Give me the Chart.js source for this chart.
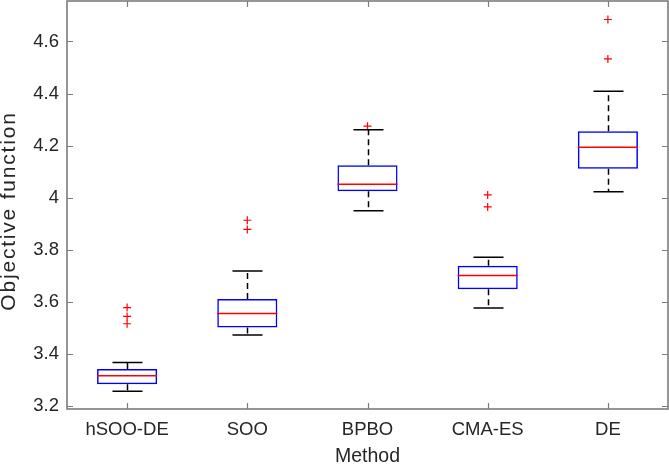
<!DOCTYPE html>
<html>
<head>
<meta charset="utf-8">
<script src="https://cdn.jsdelivr.net/npm/chart.js@4/dist/chart.umd.min.js"></script>
<style>
  html, body { margin: 0; padding: 0; background: #fff; }
  #wrap { width: 669px; height: 465px; }
</style>
</head>
<body>
<div id="wrap"><canvas id="c" width="669" height="465"></canvas></div>
<script>
const categories = ['hSOO-DE', 'SOO', 'BPBO', 'CMA-ES', 'DE'];
const q1 = [3.285, 3.503, 4.025, 3.649, 4.112];
const medians = [3.318, 3.556, 4.052, 3.702, 4.194];
const q3 = [3.343, 3.612, 4.125, 3.739, 4.255];
const whiskerLow = [3.258, 3.474, 3.950, 3.577, 4.023];
const whiskerHigh = [3.368, 3.719, 4.261, 3.772, 4.409];
const outliers = [
  [3.579, 3.545, 3.517],
  [3.914, 3.879],
  [4.275],
  [4.011, 3.965],
  [4.684, 4.533]
];
const yTicks = [3.2, 3.4, 3.6, 3.8, 4.0, 4.2, 4.4, 4.6];
const yMin = 3.19, yMax = 4.755;

const boxData = categories.map((c, i) => [q1[i], q3[i]]);
const outlierData = [];
categories.forEach((c, i) => outliers[i].forEach(v => outlierData.push({ x: c, y: v })));

const FRAME = '#7c7c7c';
const FONT = 'Liberation Sans, Arial, sans-serif';

const boxPlugin = {
  id: 'boxparts',
  beforeDraw(chart) {
    const ctx = chart.ctx;
    ctx.save();
    ctx.fillStyle = '#ffffff';
    ctx.fillRect(0, 0, chart.width, chart.height);
    ctx.restore();
  },
  afterDatasetsDraw(chart) {
    const ctx = chart.ctx;
    const y = chart.scales.y;
    const meta = chart.getDatasetMeta(0);
    ctx.save();
    meta.data.forEach((bar, i) => {
      const cx = Math.round(bar.x) + 0.5;
      const half = bar.width / 2;
      const capHalf = half / 2;
      const yLo = y.getPixelForValue(whiskerLow[i]);
      const yHi = y.getPixelForValue(whiskerHigh[i]);
      const yQ1 = y.getPixelForValue(q1[i]);
      const yQ3 = y.getPixelForValue(q3[i]);
      const yMed = y.getPixelForValue(medians[i]);
      ctx.strokeStyle = '#000000';
      ctx.lineWidth = 1.5;
      ctx.setLineDash([6, 4]);
      ctx.beginPath();
      ctx.moveTo(cx, yQ3); ctx.lineTo(cx, yHi);
      ctx.moveTo(cx, yQ1); ctx.lineTo(cx, yLo);
      ctx.stroke();
      ctx.setLineDash([]);
      ctx.beginPath();
      ctx.moveTo(cx - capHalf, yHi); ctx.lineTo(cx + capHalf, yHi);
      ctx.moveTo(cx - capHalf, yLo); ctx.lineTo(cx + capHalf, yLo);
      ctx.stroke();
      ctx.strokeStyle = '#ff0000';
      ctx.lineWidth = 1.5;
      ctx.beginPath();
      ctx.moveTo(bar.x - half, yMed); ctx.lineTo(bar.x + half, yMed);
      ctx.stroke();
    });
    ctx.restore();
  },
  afterDraw(chart) {
    const ctx = chart.ctx;
    const a = chart.chartArea;
    const x = chart.scales.x;
    const y = chart.scales.y;
    ctx.save();
    ctx.strokeStyle = FRAME;
    ctx.lineWidth = 1.2;
    ctx.beginPath();
    yTicks.forEach(v => {
      const py = Math.round(y.getPixelForValue(v)) + 0.5;
      ctx.moveTo(a.left, py); ctx.lineTo(a.left + 6, py);
      ctx.moveTo(a.right, py); ctx.lineTo(a.right - 6, py);
    });
    categories.forEach((c, i) => {
      const px = Math.round(x.getPixelForValue(i)) + 0.5;
      ctx.moveTo(px, a.top); ctx.lineTo(px, a.top + 6);
      ctx.moveTo(px, a.bottom); ctx.lineTo(px, a.bottom - 6);
    });
    ctx.stroke();
    ctx.lineWidth = 1.6;
    ctx.strokeRect(a.left, a.top, a.right - a.left, a.bottom - a.top);
    ctx.restore();
  }
};

function patchTitle(s) {
  if (s._titlePatched) return;
  const orig = s.drawTitle.bind(s);
  s.drawTitle = function () {
    const ctx = this.ctx;
    ctx.save();
    try { ctx.letterSpacing = '1.8px'; } catch (e) {}
    ctx.translate(0, 6);
    orig();
    ctx.restore();
  };
  s._titlePatched = true;
}

new Chart(document.getElementById('c'), {
  type: 'bar',
  data: {
    labels: categories,
    datasets: [
      {
        type: 'bar',
        data: boxData,
        backgroundColor: 'rgba(255,255,255,0)',
        borderColor: '#0000ff',
        borderWidth: 1.5,
        borderSkipped: false,
        barPercentage: 0.5,
        categoryPercentage: 1.0,
        order: 2
      },
      {
        type: 'line',
        data: outlierData,
        showLine: false,
        pointStyle: 'cross',
        pointRadius: 4,
        pointBorderWidth: 1.2,
        pointBorderColor: '#ff0000',
        pointBackgroundColor: '#ff0000',
        order: 1
      }
    ]
  },
  options: {
    responsive: false,
    animation: false,
    devicePixelRatio: 1,
    layout: { autoPadding: false, padding: { top: 1, right: 1, left: 0, bottom: 0 } },
    plugins: { legend: { display: false }, tooltip: { enabled: false } },
    scales: {
      x: {
        type: 'category',
        offset: true,
        grid: { display: false, drawTicks: false },
        border: { display: false },
        ticks: { color: '#262626', font: { family: FONT, size: 18.5 }, padding: 10, maxRotation: 0, autoSkip: false },
        title: { display: true, text: 'Method', color: '#262626', font: { family: FONT, size: 19.5 }, padding: { top: -3.5, bottom: -3.5 } },
        afterFit(s) { s.height = 56; s.paddingLeft = 0; s.paddingRight = 0; }
      },
      y: {
        type: 'linear',
        min: yMin,
        max: yMax,
        grid: { display: false, drawTicks: false },
        border: { display: false },
        afterBuildTicks(s) { s.ticks = yTicks.map(v => ({ value: v })); },
        ticks: {
          color: '#262626',
          font: { family: FONT, size: 18.5 },
          padding: 8,
          callback: v => String(+v.toFixed(1))
        },
        title: { display: true, text: 'Objective function', color: '#262626', font: { family: FONT, size: 21 }, padding: { top: -3, bottom: 0 } },
        afterFit(s) { s.width = 67; s.paddingTop = 0; s.paddingBottom = 0; patchTitle(s); }
      }
    }
  },
  plugins: [boxPlugin]
});
</script>
</body>
</html>
